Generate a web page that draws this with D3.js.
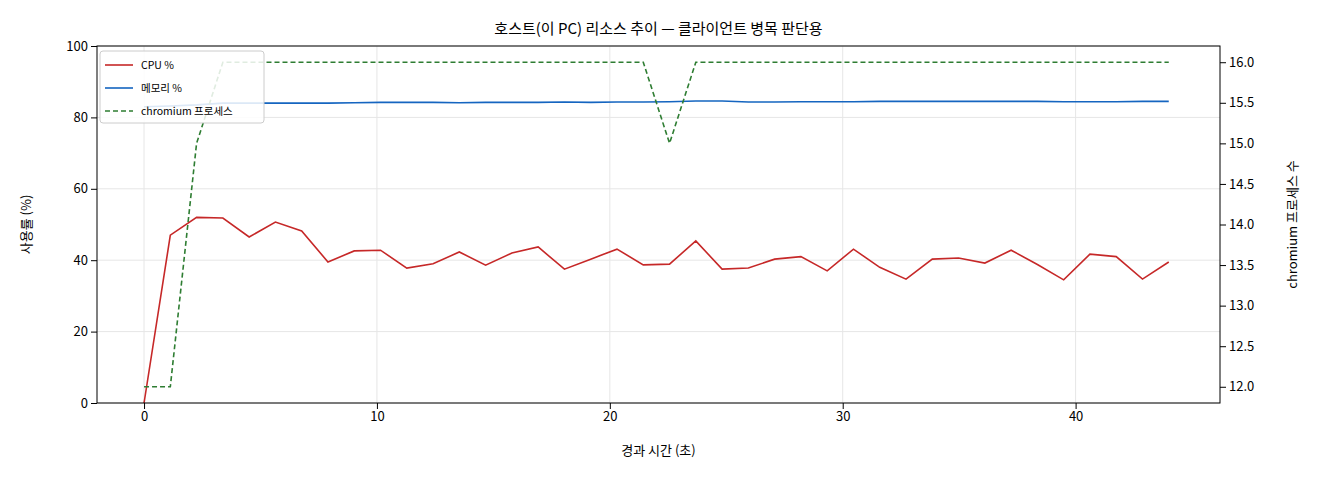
<!DOCTYPE html>
<html><head><meta charset="utf-8">
<script src="https://cdn.jsdelivr.net/npm/d3@7/dist/d3.min.js"></script>
<style>body{margin:0;background:#fff}text{font-family:"Noto Sans CJK KR","DejaVu Sans",sans-serif}</style>
</head><body><svg id="c" width="1320" height="480"></svg>
<script>
const times = d3.range(40).map(i => +(i*44/39).toFixed(3));
const cpu = [0,47,52,51.8,46.5,50.7,48.2,39.5,42.6,42.8,37.8,39,42.3,38.6,42,43.7,37.5,40.3,43.1,38.7,38.9,45.4,37.5,37.8,40.3,41,37,43.1,38,34.7,40.3,40.6,39.2,42.8,38.8,34.5,41.7,41,34.7,39.5];
const mem = [83,83.2,83.5,84,84,84,84,84,84.1,84.2,84.2,84.2,84.1,84.2,84.2,84.2,84.3,84.2,84.3,84.3,84.4,84.6,84.6,84.3,84.3,84.4,84.4,84.4,84.5,84.5,84.5,84.5,84.5,84.5,84.5,84.4,84.4,84.4,84.5,84.5];
const procs = [12,12,15,16,16,16,16,16,16,16,16,16,16,16,16,16,16,16,16,16,15,16,16,16,16,16,16,16,16,16,16,16,16,16,16,16,16,16,16,16];
const xTicks=[0,10,20,30,40], yTicks=[0,20,40,60,80,100], y2Ticks=[12,12.5,13,13.5,14,14.5,15,15.5,16];
const svg=d3.select("#c");
const L=97,R=1220,T=46,B=403;
const x=d3.scaleLinear().domain([-2.02,46.2]).range([L,R]);
const y=d3.scaleLinear().domain([0,100]).range([B,T]);
const y2=d3.scaleLinear().domain([11.8,16.2]).range([B,T]);
const g=svg.append("g");
g.selectAll(".gx").data(xTicks).join("line").attr("x1",d=>x(d)).attr("x2",d=>x(d)).attr("y1",T).attr("y2",B).attr("stroke","#e6e6e6");
g.selectAll(".gy").data(yTicks).join("line").attr("y1",d=>y(d)).attr("y2",d=>y(d)).attr("x1",L).attr("x2",R).attr("stroke","#e6e6e6");
const ln=(ys,sc)=>d3.line().x((d,i)=>x(times[i])).y(d=>sc(d))(ys);
svg.append("path").attr("d",ln(cpu,y)).attr("fill","none").attr("stroke","#c62828").attr("stroke-width",1.6);
svg.append("path").attr("d",ln(mem,y)).attr("fill","none").attr("stroke","#1565c0").attr("stroke-width",1.6);
svg.append("path").attr("d",ln(procs,y2)).attr("fill","none").attr("stroke","#2e7d32").attr("stroke-width",1.6).attr("stroke-dasharray","5,3");
svg.append("rect").attr("x",L).attr("y",T).attr("width",R-L).attr("height",B-T).attr("fill","none").attr("stroke","#000").attr("stroke-width",1);
const ax=svg.append("g").attr("transform",`translate(0,${B})`).call(d3.axisBottom(x).tickValues(xTicks).tickSizeOuter(0));
const ay=svg.append("g").attr("transform",`translate(${L},0)`).call(d3.axisLeft(y).tickValues(yTicks).tickSizeOuter(0));
const ay2=svg.append("g").attr("transform",`translate(${R},0)`).call(d3.axisRight(y2).tickValues(y2Ticks).tickFormat(d3.format(".1f")).tickSizeOuter(0));
[ax,ay,ay2].forEach(a=>{a.select(".domain").remove();a.selectAll("text").attr("font-size",13).attr("fill","#000");});
svg.append("text").attr("x",(L+R)/2).attr("y",34).attr("text-anchor","middle").attr("font-size",15).text("호스트(이 PC) 리소스 추이 — 클라이언트 병목 판단용");
svg.append("text").attr("x",(L+R)/2).attr("y",455).attr("text-anchor","middle").attr("font-size",13).text("경과 시간 (초)");
svg.append("text").attr("transform",`translate(31,${(T+B)/2}) rotate(-90)`).attr("text-anchor","middle").attr("font-size",13).text("사용률 (%)");
svg.append("text").attr("transform",`translate(1297,${(T+B)/2}) rotate(-90)`).attr("text-anchor","middle").attr("font-size",13).text("chromium 프로세스 수");
const leg=[["CPU %","#c62828",null],["메모리 %","#1565c0",null],["chromium 프로세스","#2e7d32","5,3"]];
const lg=svg.append("g").attr("transform",`translate(${L+3},${T+5})`);
lg.append("rect").attr("width",164).attr("height",72).attr("fill","#fff").attr("fill-opacity",0.85).attr("stroke","#ccc").attr("rx",3);
leg.forEach((d,i)=>{const yy=14+i*23;
lg.append("line").attr("x1",5).attr("x2",33).attr("y1",yy).attr("y2",yy).attr("stroke",d[1]).attr("stroke-width",1.6).attr("stroke-dasharray",d[2]);
lg.append("text").attr("x",41).attr("y",yy+4).attr("font-size",10.5).text(d[0]);});
</script></body></html>
